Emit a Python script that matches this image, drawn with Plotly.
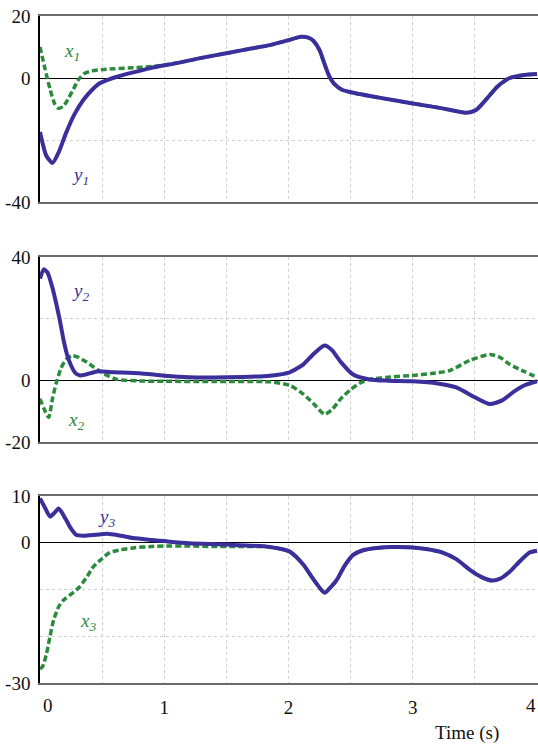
import plotly.graph_objects as go

# ---------------- data ----------------
t_y1 = [0, 0.05, 0.1, 0.15, 0.21, 0.28, 0.35, 0.42, 0.48, 0.55, 0.62, 0.75, 0.89, 1.1, 1.29, 1.5, 1.7,
        1.85, 2.0, 2.1, 2.16, 2.2, 2.25, 2.29, 2.33, 2.37, 2.43, 2.5, 2.75, 3.0, 3.24, 3.43, 3.51, 3.6,
        3.68, 3.78, 3.9, 4.0]
y1 = [-17.4, -25, -27.4, -24, -17.7, -11.5, -7, -3.8, -1.7, -0.5, 0.4, 1.8, 3.2, 4.8, 6.4, 8, 9.5,
      10.6, 12.2, 13.3, 13.0, 12.0, 9.0, 4.5, 0.4, -2.0, -3.8, -4.6, -6.5, -8.2, -9.8, -11.2, -10.3, -6.5,
      -2.8, 0, 1.0, 1.3]

t_x1 = [0, 0.04, 0.08, 0.12, 0.15, 0.19, 0.23, 0.27, 0.31, 0.36, 0.42, 0.5, 0.6, 0.75, 0.9, 1.05, 1.2,
        1.29, 1.5, 1.7, 1.85, 2.0, 2.1, 2.16, 2.2, 2.25, 2.29, 2.33, 2.37, 2.43, 2.5, 2.75, 3.0, 3.24,
        3.43, 3.51, 3.6, 3.68, 3.78, 3.9, 4.0]
x1 = [10, 3, -3.5, -8.5, -9.8, -9, -6.5, -3.5, -0.5, 1.5, 2.3, 2.7, 3.0, 3.3, 3.7, 4.5, 5.6,
      6.4, 8, 9.5, 10.6, 12.2, 13.3, 13.0, 12.0, 9.0, 4.5, 0.4, -2.0, -3.8, -4.6, -6.5, -8.2, -9.8,
      -11.2, -10.3, -6.5, -2.8, 0, 1.0, 1.3]

t_y2 = [0, 0.03, 0.06, 0.1, 0.13, 0.16, 0.19, 0.22, 0.25, 0.28, 0.32, 0.37, 0.46, 0.6, 0.8, 1.0, 1.2,
        1.5, 1.85, 2.01, 2.12, 2.2, 2.29, 2.35, 2.42, 2.52, 2.65, 2.8, 3.0, 3.2, 3.35, 3.5, 3.62, 3.72,
        3.82, 3.9, 4.0]
y2 = [33, 36, 35, 30, 25, 19.4, 13, 8, 4.8, 2.6, 1.6, 1.9, 2.9, 2.6, 2.3, 1.5, 1.0,
      1.0, 1.5, 2.6, 5.2, 8.5, 11.3, 9.8, 6, 1.9, 0.3, -0.1, -0.3, -1.0, -2.3, -5.5, -7.7, -6.5,
      -3.5, -1.6, -0.3]

t_x2 = [0, 0.03, 0.07, 0.1, 0.13, 0.17, 0.21, 0.26, 0.3, 0.38, 0.46, 0.54, 0.62, 0.8, 1.0, 1.4, 1.85,
        2.01, 2.12, 2.2, 2.29, 2.35, 2.42, 2.5, 2.58, 2.65, 2.8, 3.0, 3.15, 3.3, 3.46, 3.62, 3.7, 3.78,
        3.9, 4.0]
x2 = [-6, -9, -12, -6, -1, 4, 6.8, 8, 7.6, 5.8, 3.5, 1.6, 0.3, -0.2, -0.3, -0.4, -0.5,
      -1.6, -4.5, -7.5, -11, -9.5, -6, -3, -0.8, 0.3, 1.0, 1.6, 2.2, 3.2, 6.5, 8.4, 7.5, 5.2,
      2.8, 1.0]

t_y3 = [0, 0.04, 0.08, 0.12, 0.15, 0.18, 0.21, 0.25, 0.29, 0.35, 0.45, 0.54, 0.65, 0.75, 0.9, 1.02,
        1.2, 1.5, 1.85, 2.01, 2.12, 2.2, 2.29, 2.34, 2.39, 2.45, 2.52, 2.6, 2.71, 2.85, 3.0, 3.12, 3.24,
        3.35, 3.46, 3.55, 3.64, 3.71, 3.78, 3.86, 3.94, 4.0]
y3 = [9.5, 7.5, 5.6, 6.5, 7.3, 6.3, 4.9, 3.0, 1.7, 1.5, 1.7, 1.9, 1.5, 1.0, 0.6, 0.3,
      -0.1, -0.4, -0.9, -1.9, -4.7, -7.8, -10.7, -9.5, -7.9, -5.0, -2.6, -1.6, -1.1, -0.9, -1.0, -1.4, -2.1,
      -3.5, -5.8, -7.3, -8.1, -7.6, -6.2, -4.0, -2.1, -1.7]

t_x3 = [0, 0.02, 0.05, 0.08, 0.11, 0.15, 0.18, 0.21, 0.26, 0.32, 0.38, 0.43, 0.5, 0.56, 0.65, 0.75,
        0.9, 1.0, 1.2, 1.4, 1.55, 1.85, 2.01, 2.12, 2.2, 2.29, 2.34, 2.39, 2.45, 2.52, 2.6, 2.71, 2.85,
        3.0, 3.12, 3.24, 3.35, 3.46, 3.55, 3.64, 3.71, 3.78, 3.86, 3.94, 4.0]
x3 = [-27, -26.5, -24, -20.1, -16.5, -13.7, -12.5, -11.8, -10.8, -9.4, -7.2, -5.1, -3.4, -2.1, -1.5, -1.1,
      -0.8, -0.7, -0.7, -0.8, -0.8, -0.9, -1.9, -4.7, -7.8, -10.7, -9.5, -7.9, -5.0, -2.6, -1.6, -1.1, -0.9,
      -1.0, -1.4, -2.1, -3.5, -5.8, -7.3, -8.1, -7.6, -6.2, -4.0, -2.1, -1.7]

x_tickvals = [0, 0.5, 1, 1.5, 2, 2.5, 3, 3.5, 4]
x_ticktext = ["", "", "1", "", "2", "", "3", "", ""]

y1_ticks = [-40, -20, 0, 20]
y1_text = ["-40", "", "0", "20"]
y2_ticks = [-20, 0, 20, 40]
y2_text = ["-20", "0", "", "40"]
y3_ticks = [-30, -20, -10, 0, 10]
y3_text = ["-30", "", "", "0", "10"]

BLUE = "#3b2f9c"
GREEN = "#2b8a3c"
W, H = 538, 744
FONT = "Liberation Serif, Times New Roman, DejaVu Serif, serif"

fig = go.Figure()

def add_pair(tx, xv, ty, yv, ax):
    fig.add_trace(go.Scatter(x=tx, y=xv, mode="lines", line=dict(color=GREEN, width=3.5, dash="6px,3px",
                                                                shape="spline", smoothing=0.6),
                             xaxis="x" + ax, yaxis="y" + ax, showlegend=False))
    fig.add_trace(go.Scatter(x=ty, y=yv, mode="lines", line=dict(color=BLUE, width=4, shape="spline",
                                                                smoothing=0.6),
                             xaxis="x" + ax, yaxis="y" + ax, showlegend=False))

add_pair(t_x1, x1, t_y1, y1, "")
add_pair(t_x2, x2, t_y2, y2, "2")
add_pair(t_x3, x3, t_y3, y3, "3")

def pdom(top_px, bot_px):
    return [1 - bot_px / H, 1 - top_px / H]

xdom = [40 / W, 1]
common_x = dict(range=[0, 4.008], domain=xdom, tickvals=x_tickvals, showgrid=True, gridcolor="#cfcfcf",
                griddash="dot", gridwidth=1, showline=True, linecolor="#6a6a6a", linewidth=2, mirror=True,
                zeroline=False, ticks="", automargin=False, ticklabelstandoff=6,
                tickfont=dict(family=FONT, size=19, color="#111"))
common_y = dict(showgrid=True, gridcolor="#cfcfcf", griddash="dot", gridwidth=1, showline=True,
                linecolor="#000", linewidth=1.5, zeroline=True, zerolinecolor="#000", zerolinewidth=1,
                ticks="", automargin=False, ticklabelstandoff=4,
                tickfont=dict(family=FONT, size=19, color="#111"))

fig.update_layout(
    width=W, height=H, margin=dict(l=0, r=0, t=0, b=0),
    paper_bgcolor="white", plot_bgcolor="white",
    font=dict(family=FONT, size=19, color="#111"),
    xaxis=dict(common_x, anchor="y", showticklabels=False),
    xaxis2=dict(common_x, anchor="y2", showticklabels=False),
    xaxis3=dict(common_x, anchor="y3", showticklabels=True, ticktext=x_ticktext),
    yaxis=dict(common_y, range=[-40, 20], domain=pdom(16, 202), tickvals=y1_ticks, ticktext=y1_text, anchor="x"),
    yaxis2=dict(common_y, range=[-20, 40], domain=pdom(257, 442), tickvals=y2_ticks, ticktext=y2_text, anchor="x2"),
    yaxis3=dict(common_y, range=[-30, 10], domain=pdom(496, 683), tickvals=y3_ticks, ticktext=y3_text, anchor="x3"),
)

def lab(text, x_px, y_px, color, italic=True, size=19, xanchor="center"):
    fig.add_annotation(text=text, x=x_px / W, y=1 - y_px / H, xref="paper", yref="paper",
                       showarrow=False, xanchor=xanchor, yanchor="middle",
                       font=dict(family=FONT, size=size, color=color,
                                 style="italic" if italic else "normal"))

lab("x<sub>1</sub>", 72, 52, GREEN)
lab("y<sub>1</sub>", 80, 176, BLUE)
lab("y<sub>2</sub>", 80, 292, BLUE)
lab("x<sub>2</sub>", 76, 421, GREEN)
lab("y<sub>3</sub>", 106, 518, BLUE)
lab("x<sub>3</sub>", 88, 622, GREEN)
lab("0", 48, 705, "#111", italic=False)
lab("4", 538, 705, "#111", italic=False, xanchor="right")
lab("Time (s)", 467, 733, "#111", italic=False)

fig.write_html("out.html", config={"displayModeBar": False},
               post_script="document.body.style.margin='0';document.body.style.overflow='hidden';")
